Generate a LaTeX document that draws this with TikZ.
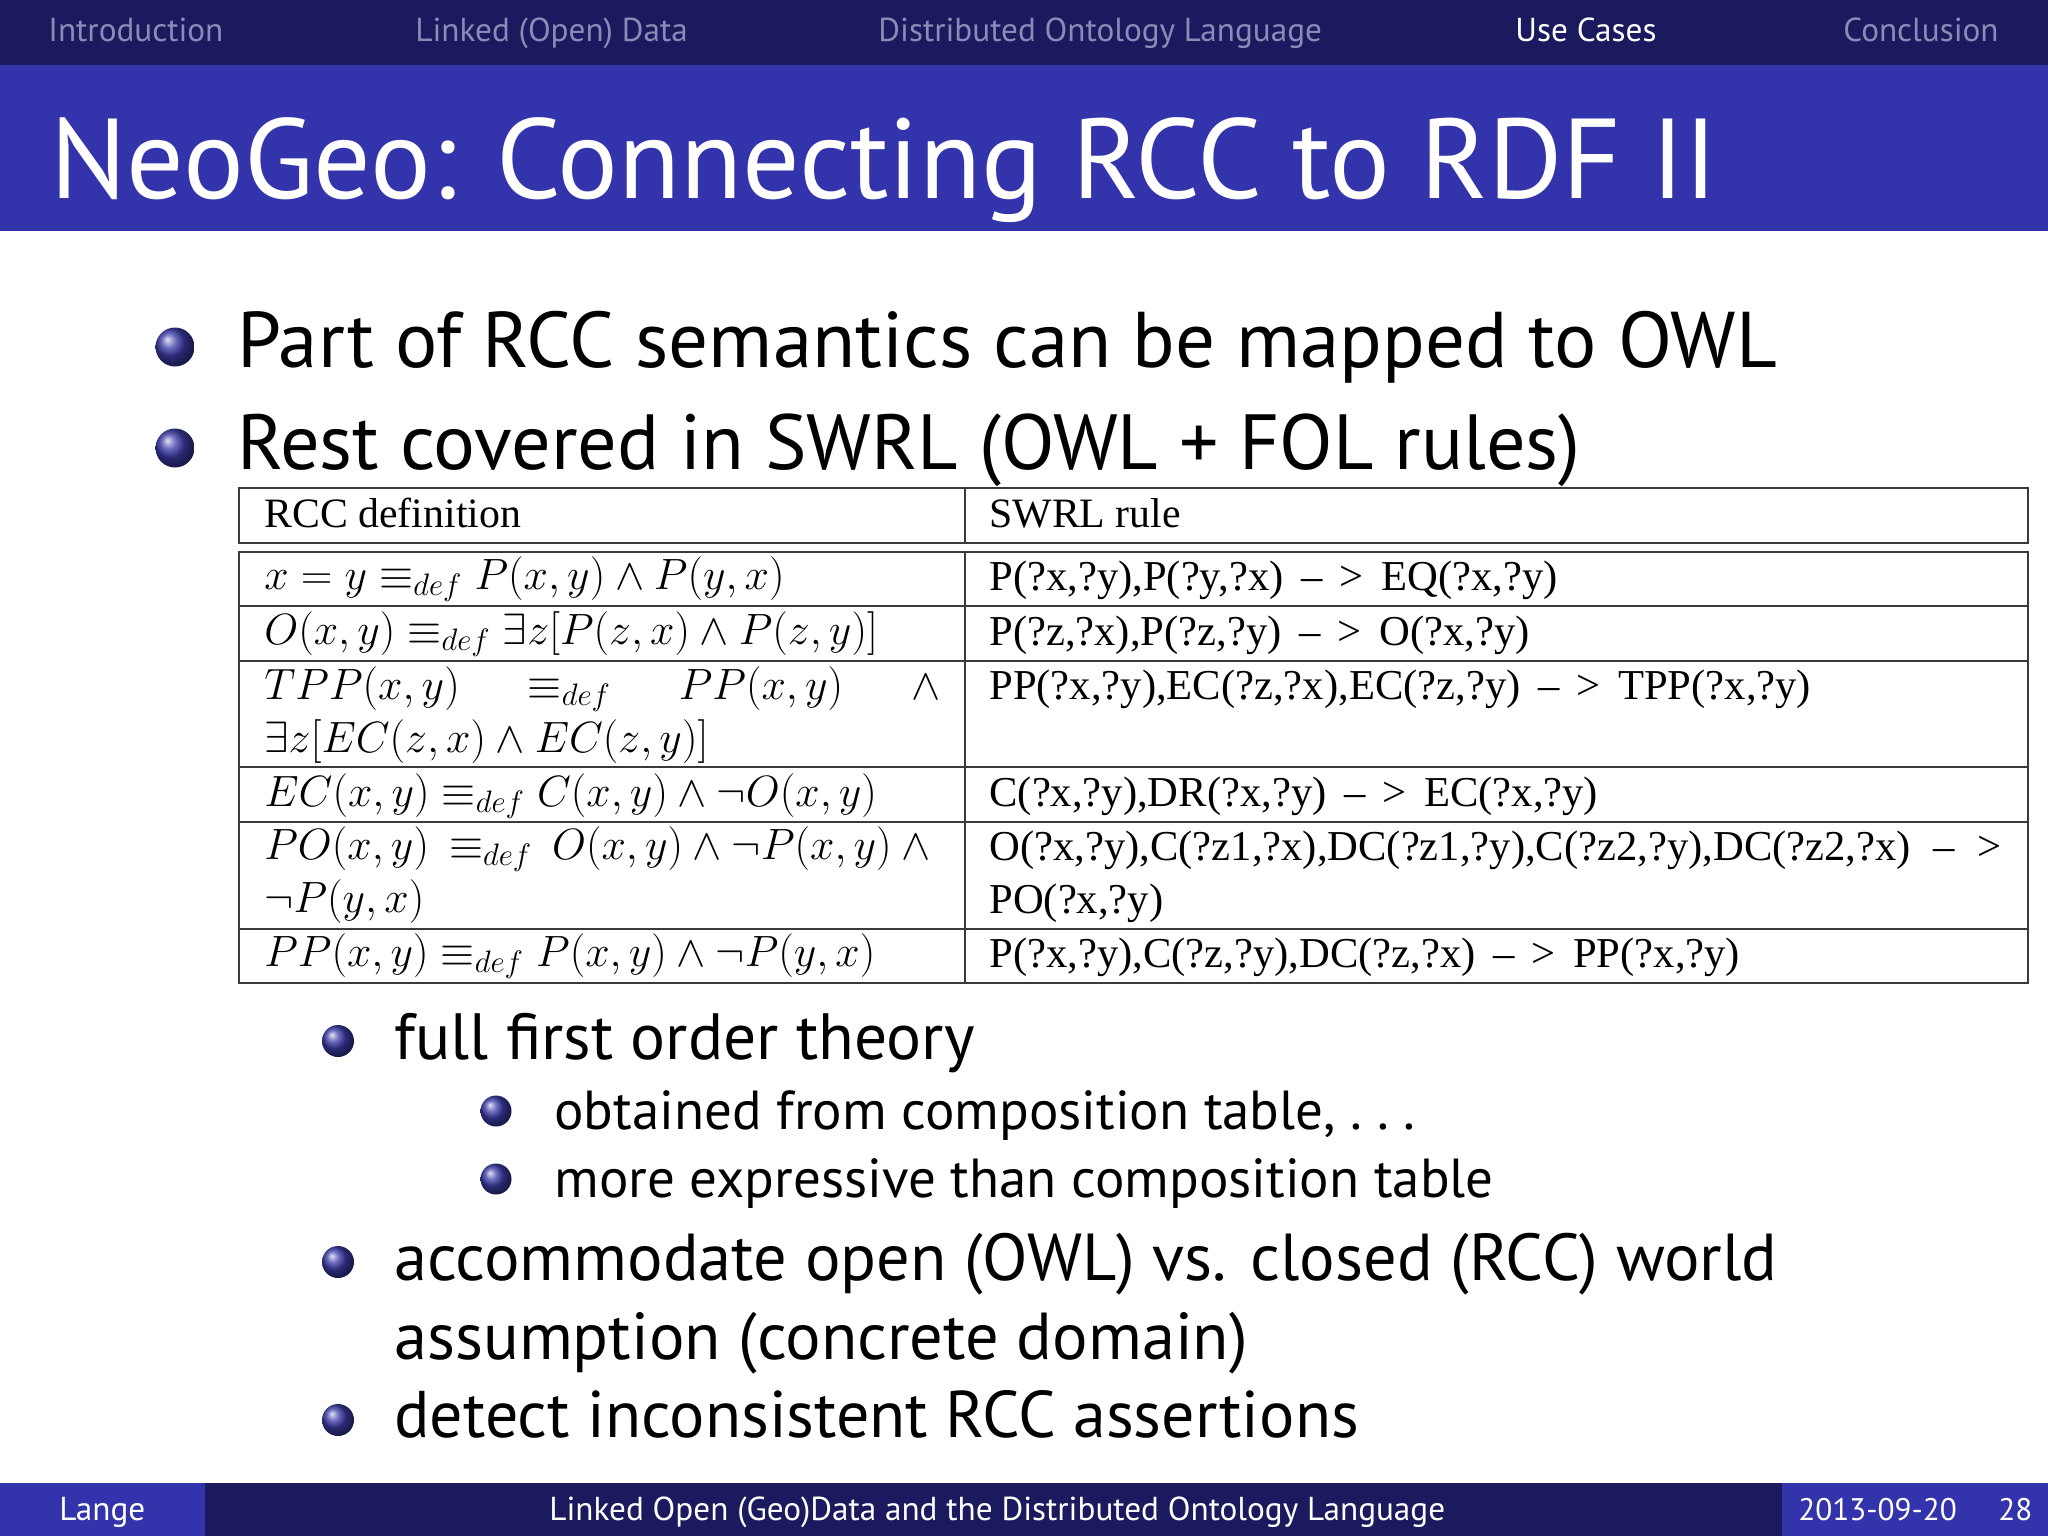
\documentclass[tikz,border=0pt]{standalone}
\usepackage{fix-cm}
\usepackage{amsmath}
\usepackage{fontspec}
\setmainfont{PT Sans}
\newfontfamily\tabfont{Liberation Serif}
\usepackage{tikz}
\DeclareMathSizes{21.9}{21.9}{15.5}{12}
\definecolor{mNavy}{HTML}{1B1A5F}
\definecolor{mBlue}{HTML}{3333AC}
\definecolor{mDim}{HTML}{8B8BB8}
\definecolor{mRule}{HTML}{3A3A3A}
\definecolor{mBall}{HTML}{3C3CAA}
\newcommand{\dfn}{\equiv_{def}}
\newcommand{\imp}{\hspace{.41em}–\hspace{.41em}>\hspace{.41em}}
\tikzstyle{navbar} = [fill=mNavy]
\tikzstyle{titlebar} = [fill=mBlue]
\tikzstyle{nav} = [anchor=base west, inner sep=0pt, text=mDim,%
font=\fontsize{16.6}{18}\selectfont]
\tikzstyle{foot} = [anchor=base west, inner sep=0pt, text=white,%
font=\fontsize{16.6}{18}\selectfont]
\tikzstyle{head} = [anchor=base west, inner sep=0pt, text=white,%
font=\fontsize{56.8}{60}\selectfont]
\tikzstyle{itemA} = [anchor=base west, inner sep=0pt,%
font=\fontsize{39.5}{42}\selectfont]
\tikzstyle{itemB} = [anchor=base west, inner sep=0pt,%
font=\fontsize{33.2}{36}\selectfont]
\tikzstyle{itemC} = [anchor=base west, inner sep=0pt,%
font=\fontsize{27.5}{30}\selectfont]
\tikzstyle{cell} = [anchor=base west, inner sep=0pt,%
font=\tabfont\fontsize{21.3}{24}\selectfont]
\tikzstyle{cellhead} = [cell, font=\tabfont\fontsize{20.9}{24}\selectfont]
\tikzstyle{cellmath} = [cell, font=\tabfont\fontsize{21.9}{24}\selectfont]
\tikzstyle{ballA} = [circle, inner sep=0pt, minimum size=19.5pt, ball color=mBall]
\tikzstyle{ballB} = [circle, inner sep=0pt, minimum size=16pt, ball color=mBall]
\tikzstyle{ballC} = [circle, inner sep=0pt, minimum size=15.5pt, ball color=mBall]
\tikzstyle{rule} = [draw=mRule, line width=1pt]

\begin{document}
\begin{tikzpicture}[x=0.5pt, y=-0.5pt]
    \useasboundingbox (0,0) rectangle (2048,1536);

    % bars
    \fill [navbar] (0,0) rectangle (2048,65);
    \fill [titlebar] (0,65) rectangle (2048,231);
    \fill [navbar] (0,1483) rectangle (2048,1536);
    \fill [titlebar] (0,1483) rectangle (205,1536);
    \fill [titlebar] (1782,1483) rectangle (2048,1536);

    \node (navIntro) [nav] at (48,42) {Introduction};
    \node (navData) [nav] at (415,42) {Linked (Open) Data};
    \node (navDol) [nav] at (878,42) {Distributed Ontology Language};
    \node (navCases) [nav, text=white] at (1515,42) {Use Cases};
    \node (navEnd) [nav] at (1843,42) {Conclusion};

    \node (title) [head] at (50,198) {NeoGeo: Connecting RCC to RDF II};

    \node (ballPart) [ballA] at (175,347) {};
    \node (textPart) [itemA] at (237,367) {Part of RCC semantics can be mapped to OWL};
    \node (ballRest) [ballA] at (175,448) {};
    \node (textRest) [itemA, font=\fontsize{39.1}{42}\selectfont] at (237,469) {Rest covered in SWRL (OWL + FOL rules)};

    % table
    \draw [rule] (239,488) rectangle (2028,543);
    \draw [rule] (239,552) rectangle (2028,983);
    \draw [rule] (965,488) -- (965,543);
    \draw [rule] (965,552) -- (965,983);
    \draw [rule] (239,606) -- (2028,606);
    \draw [rule] (239,661) -- (2028,661);
    \draw [rule] (239,767) -- (2028,767);
    \draw [rule] (239,822) -- (2028,822);
    \draw [rule] (239,929) -- (2028,929);

    \node (defHead) [cellhead] at (264,527) {RCC definition};
    \node (ruleHead) [cellhead] at (989,527) {SWRL rule};

    \node (defEq) [cellmath] at (264,589) {$x=y\dfn P(x,y)\wedge P(y,x)$};
    \node (ruleEq) [cell] at (989,590) {P(?x,?y),P(?y,?x)\imp EQ(?x,?y)};
    \node (defO) [cellmath] at (264,644) {$O(x,y)\dfn \exists z[P(z,x)\wedge P(z,y)]$};
    \node (ruleO) [cell] at (989,645) {P(?z,?x),P(?z,?y)\imp O(?x,?y)};
    \node (defTpp) [cellmath] at (264,699) {\hbox to 338pt{$TPP(x,y)$\hfil$\dfn$\hfil$PP(x,y)$\hfil$\wedge$}};
    \node (defTppB) [cellmath] at (264,752) {$\exists z[EC(z,x)\wedge EC(z,y)]$};
    \node (ruleTpp) [cell] at (989,699) {PP(?x,?y),EC(?z,?x),EC(?z,?y)\imp TPP(?x,?y)};
    \node (defEc) [cellmath] at (264,806) {$EC(x,y)\dfn C(x,y)\wedge\neg O(x,y)$};
    \node (ruleEc) [cell] at (989,806) {C(?x,?y),DR(?x,?y)\imp EC(?x,?y)};
    \node (defPo) [cellmath] at (264,859) {\hbox to 338pt{$PO(x,y)$\hfil$\dfn$\hfil$O(x,y)\wedge\neg P(x,y)\wedge{}$}};
    \node (defPoB) [cellmath] at (264,912) {$\neg P(y,x)$};
    \node (rulePo) [cell] at (989,860) {\hbox to 506pt{O(?x,?y),C(?z1,?x),DC(?z1,?y),C(?z2,?y),DC(?z2,?x)\hfil –\hfil >}};
    \node (rulePoB) [cell] at (989,913) {PO(?x,?y)};
    \node (defPp) [cellmath] at (264,966) {$PP(x,y)\dfn P(x,y)\wedge\neg P(y,x)$};
    \node (rulePp) [cell] at (989,967) {P(?x,?y),C(?z,?y),DC(?z,?x)\imp PP(?x,?y)};

    % sub items
    \node (ballFull) [ballB] at (338,1041) {};
    \node (textFull) [itemB, font=\fontsize{32.7}{36}\selectfont] at (394,1059) {full first order theory};
    \node (ballComp) [ballC] at (496,1111) {};
    \node (textComp) [itemC] at (554,1129) {obtained from composition table, .~.~.};
    \node (ballMore) [ballC] at (496,1179) {};
    \node (textMore) [itemC] at (554,1197) {more expressive than composition table};
    \node (ballOpen) [ballB] at (338,1262) {};
    \node (textOpen) [itemB] at (394,1280) {accommodate open (OWL) vs. closed (RCC) world};
    \node (textOpenB) [itemB] at (394,1359) {assumption (concrete domain)};
    \node (ballBad) [ballB] at (338,1420) {};
    \node (textBad) [itemB, font=\fontsize{33}{36}\selectfont] at (394,1437) {detect inconsistent RCC assertions};

    % footer
    \node (footName) [foot] at (59,1520) {Lange};
    \node (footTalk) [foot] at (549,1520) {Linked Open (Geo)Data and the Distributed Ontology Language};
    \node (footDate) [foot, font=\fontsize{15.6}{18}\selectfont] at (1798,1520) {2013-09-20};
    \node (footPage) [foot, font=\fontsize{15.6}{18}\selectfont] at (1998,1520) {28};
  \end{tikzpicture}
\end{document}
